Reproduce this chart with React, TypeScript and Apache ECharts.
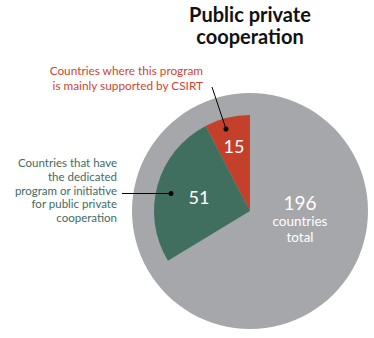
import React, { useEffect, useRef } from "react";
import * as echarts from "echarts";

const titleLines = ["Public private", "cooperation"];
const categories = ["Supported by CSIRT", "Dedicated program", "Other"];
const totalCountries = 196;
const csirtCountries = 15;
const dedicatedCountries = 51;
const totalLabelLines = ["countries", "total"];
const redNoteLines = ["Countries where this program", "is mainly supported by CSIRT"];
const greenNoteLines = [
  "Countries that have",
  "the dedicated",
  "program or initiative",
  "for public private",
  "cooperation",
];

export default function App() {
  const ref = useRef<HTMLDivElement>(null);
  useEffect(() => {
    if (!ref.current) return;
    const chart = echarts.init(ref.current, null, { renderer: "svg" });
    const cx = 250, cy = 211, R = 118, r = 96;
    const font = "Lato, 'Open Sans', sans-serif";
    const toXY = (valueAt: number, rad: number) => {
      const a = (90 + (valueAt / totalCountries) * 360) * Math.PI / 180;
      return [cx + rad * Math.cos(a), cy - rad * Math.sin(a)];
    };
    const redMid = toXY(csirtCountries / 2, 67);
    const greenMid = toXY(csirtCountries + dedicatedCountries / 2, 53);
    const other = totalCountries - csirtCountries - dedicatedCountries;
    const Z = 100;

    chart.setOption({
      animation: false,
      series: [
        {
          type: "pie",
          center: [cx, cy],
          radius: R,
          silent: true,
          z: 1,
          label: { show: false },
          labelLine: { show: false },
          data: [{ value: totalCountries, name: "Total", itemStyle: { color: "#a6a7ab" } }],
        },
        {
          type: "pie",
          center: [cx, cy],
          radius: r,
          startAngle: 90,
          clockwise: false,
          silent: true,
          z: 2,
          label: { show: false },
          labelLine: { show: false },
          data: [
            { value: csirtCountries, name: categories[0], itemStyle: { color: "#c5402b" } },
            { value: dedicatedCountries, name: categories[1], itemStyle: { color: "#416f5f" } },
            { value: other, name: categories[2], itemStyle: { color: "rgba(0,0,0,0)" } },
          ],
        },
      ],
      graphic: [
        {
          type: "text",
          z: Z,
          x: 250,
          y: 25,
          style: {
            text: titleLines.join("\n"),
            font: `bold 20px ${font}`,
            lineHeight: 22,
            fill: "#111",
            textAlign: "center",
            textVerticalAlign: "middle",
          },
        },
        {
          type: "text",
          z: Z,
          x: 203,
          y: 78,
          style: {
            text: redNoteLines.join("\n"),
            font: `11.8px ${font}`,
            lineHeight: 14.2,
            fill: "#d2432f",
            textAlign: "right",
            textVerticalAlign: "middle",
          },
        },
        {
          type: "text",
          z: Z,
          x: 117,
          y: 190,
          style: {
            text: greenNoteLines.join("\n"),
            font: `11.5px ${font}`,
            lineHeight: 13.8,
            fill: "#3f6b63",
            textAlign: "right",
            textVerticalAlign: "middle",
          },
        },
        {
          type: "line",
          z: Z,
          shape: { x1: 212, y1: 87, x2: 226, y2: 129 },
          style: { stroke: "#000", lineWidth: 1 },
        },
        { type: "circle", z: Z, shape: { cx: 226, cy: 129, r: 2.5 }, style: { fill: "#000" } },
        {
          type: "line",
          z: Z,
          shape: { x1: 122, y1: 193.5, x2: 171, y2: 193.5 },
          style: { stroke: "#000", lineWidth: 1 },
        },
        { type: "circle", z: Z, shape: { cx: 171, cy: 193.5, r: 2.5 }, style: { fill: "#000" } },
        {
          type: "text",
          z: Z,
          x: redMid[0],
          y: redMid[1],
          style: {
            text: String(csirtCountries),
            font: `18px ${font}`,
            fill: "#fff",
            textAlign: "center",
            textVerticalAlign: "middle",
          },
        },
        {
          type: "text",
          z: Z,
          x: greenMid[0],
          y: greenMid[1],
          style: {
            text: String(dedicatedCountries),
            font: `18px ${font}`,
            fill: "#fff",
            textAlign: "center",
            textVerticalAlign: "middle",
          },
        },
        {
          type: "text",
          z: Z,
          x: 300,
          y: 218.6,
          style: {
            text:
              `{big|${totalCountries}}\n` +
              totalLabelLines.map((t) => `{small|${t}}`).join("\n"),
            rich: {
              big: { fontFamily: font, fontSize: 19, lineHeight: 20, fill: "#fff", align: "center" },
              small: { fontFamily: font, fontSize: 13.5, lineHeight: 16, fill: "#fff", align: "center" },
            },
            fill: "#fff",
            textAlign: "center",
            textVerticalAlign: "middle",
          },
        },
      ],
    });
    return () => chart.dispose();
  }, []);
  return (
    <div
      ref={ref}
      style={{ position: "fixed", left: 0, top: 0, width: 374, height: 338, background: "#fff" }}
    />
  );
}
